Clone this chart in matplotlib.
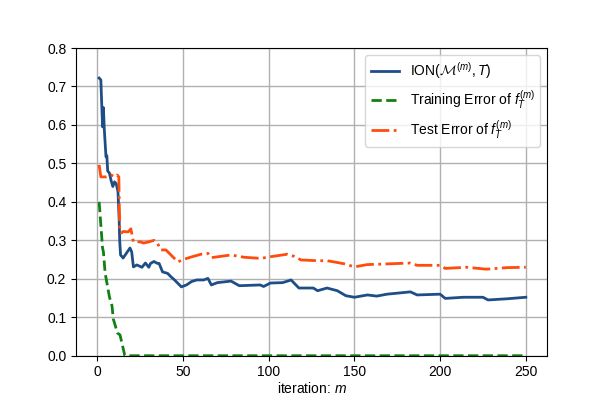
import numpy as np
import matplotlib
matplotlib.use('Agg')
import matplotlib.pyplot as plt

plt.rcParams['font.family'] = ['Liberation Sans', 'DejaVu Sans']
plt.rcParams['mathtext.fontset'] = 'custom'
plt.rcParams['mathtext.rm'] = 'Liberation Sans'
plt.rcParams['mathtext.it'] = 'Liberation Sans:italic'
plt.rcParams['mathtext.cal'] = 'cmsy10'

# ION(M^(m), T)
ion_m = [1, 2, 3, 3.5, 4, 5, 5.5, 6, 7, 8, 9, 10, 11, 12, 12.7, 13, 13.5, 15, 17, 19,
         20, 21, 23, 26, 28, 30, 31, 33, 35, 36, 38, 41, 43, 45, 49, 52, 55, 58, 62, 64.5,
         66.5, 70, 78, 82.8, 95, 97, 101, 108, 111, 113, 117.6, 126, 128.5, 134, 140, 145,
         150, 157.6, 163, 169, 182.7, 186.6, 200, 203, 213.6, 225, 228, 239, 250]
ion_val = [0.722, 0.717, 0.595, 0.645, 0.59, 0.517, 0.52, 0.48, 0.475, 0.455, 0.44, 0.452,
           0.447, 0.426, 0.353, 0.30, 0.262, 0.254, 0.267, 0.28, 0.27, 0.231, 0.236, 0.23,
           0.241, 0.23, 0.24, 0.245, 0.24, 0.24, 0.218, 0.214, 0.205, 0.197, 0.179, 0.184,
           0.193, 0.197, 0.197, 0.201, 0.184, 0.19, 0.194, 0.182, 0.184, 0.18, 0.189, 0.19,
           0.194, 0.197, 0.176, 0.176, 0.169, 0.176, 0.169, 0.156, 0.152, 0.158, 0.155,
           0.16, 0.166, 0.158, 0.16, 0.149, 0.152, 0.152, 0.145, 0.148, 0.152]

# training error of f_T^(m)
train_m = [1, 3, 3.5, 4.5, 7, 8.5, 9.3, 11.7, 13.2, 16, 250]
train_val = [0.40, 0.28, 0.27, 0.215, 0.153, 0.13, 0.095, 0.059, 0.054, 0.0, 0.0]

# test error of f_T^(m)
test_m = [1, 2, 5, 8, 10, 11.5, 12.5, 13, 14, 15, 18, 19.5, 21, 25, 27, 30, 33, 35, 37,
          40, 44, 47, 50, 55, 60.6, 64.5, 66.5, 78, 85.6, 95.5, 99, 111, 115, 118.8, 128.5,
          134, 138, 144, 150, 157.6, 165, 182.7, 186.6, 200, 203, 215.5, 227, 239, 250]
test_val = [0.496, 0.465, 0.465, 0.47, 0.465, 0.47, 0.465, 0.33, 0.319, 0.323, 0.322,
            0.33, 0.296, 0.296, 0.293, 0.296, 0.30, 0.293, 0.275, 0.275, 0.257, 0.244, 0.25,
            0.257, 0.264, 0.266, 0.255, 0.262, 0.256, 0.253, 0.256, 0.264, 0.258, 0.249,
            0.247, 0.247, 0.244, 0.239, 0.231, 0.237, 0.238, 0.241, 0.235, 0.235, 0.227,
            0.23, 0.225, 0.229, 0.23]

fig, ax = plt.subplots(figsize=(6.08, 4.07), dpi=100)
fig.subplots_adjust(left=0.125, right=0.9, bottom=0.126, top=0.882)

ax.plot(ion_m, ion_val, color='#1f4e87', lw=2.0, label=r'ION$(\mathcal{M}^{(m)}, T)$')
ax.plot(train_m, train_val, color='#128012', lw=2.0, ls='--',
        label=r'Training Error of $f_T^{(m)}$')
ax.plot(test_m, test_val, color='#ff4c0c', lw=2.0, ls='-.',
        label=r'Test Error of $f_T^{(m)}$')

ax.set_xlim(-12.5, 262.5)
ax.set_ylim(0, 0.8)
ax.set_xticks([0, 50, 100, 150, 200, 250])
ax.set_xlabel('iteration: $m$', labelpad=1)
ax.grid(True, color='#b0b0b0', lw=1)
ax.legend(loc='upper right')

plt.savefig('out.png')
